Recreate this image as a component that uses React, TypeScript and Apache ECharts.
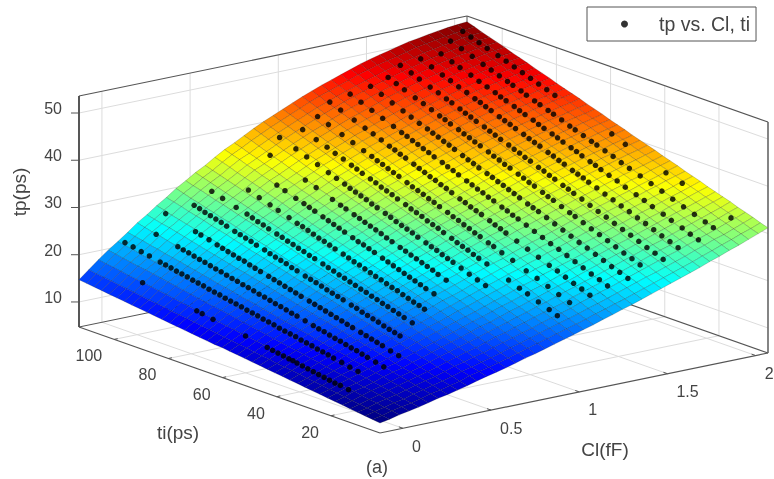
import React, { useEffect, useRef } from "react";
import * as echarts from "echarts";

const clTicks = [0, 0.5, 1, 1.5, 2];
const clTickLabels = ["0", "0.5", "1", "1.5", "2"];
const tiTicks = [20, 40, 60, 80, 100];
const tpTicks = [10, 20, 30, 40, 50];
const clRange = [-0.13, 2.07];
const tiRange = [1.9, 113];
const tpRange = [4.7, 53.6];
const surfaceRows = [
[6.8,7.2,7.7,8.1,8.5,9.0,9.5,9.9,10.4,10.9,11.5,12.0,12.5,13.0,13.6,14.2,14.7,15.3,15.9,16.5,17.1,17.7,18.3,19.0,19.6,20.3,20.9,21.6,22.3,23.0,23.7,24.4,25.1,25.8,26.6,27.3,28.1,28.8,29.6,30.4,31.2],
[7.0,7.4,8.0,8.4,8.8,9.3,9.9,10.3,10.8,11.3,12.0,12.5,13.0,13.5,14.1,14.7,15.3,15.9,16.5,17.1,17.7,18.3,18.9,19.6,20.2,20.9,21.5,22.2,22.9,23.6,24.3,25.0,25.7,26.4,27.2,27.9,28.7,29.4,30.2,30.9,31.7],
[7.2,7.7,8.2,8.7,9.1,9.7,10.2,10.7,11.2,11.8,12.4,12.9,13.5,14.0,14.6,15.3,15.8,16.4,17.1,17.7,18.3,18.9,19.5,20.2,20.8,21.5,22.2,22.9,23.6,24.3,24.9,25.6,26.3,27.0,27.8,28.5,29.3,29.9,30.7,31.5,32.3],
[7.4,7.9,8.5,9.0,9.4,10.0,10.6,11.1,11.6,12.2,12.9,13.4,14.0,14.5,15.2,15.8,16.4,17.0,17.6,18.3,18.9,19.5,20.1,20.9,21.5,22.2,22.8,23.5,24.2,24.9,25.6,26.3,27.0,27.6,28.4,29.1,29.8,30.5,31.3,32.0,32.8],
[7.6,8.1,8.7,9.3,9.8,10.4,11.0,11.5,12.1,12.6,13.3,13.9,14.5,15.0,15.7,16.4,16.9,17.6,18.2,18.9,19.5,20.1,20.7,21.5,22.1,22.8,23.4,24.1,24.8,25.5,26.2,26.9,27.6,28.2,29.0,29.7,30.4,31.1,31.8,32.6,33.3],
[7.8,8.3,9.0,9.6,10.1,10.7,11.3,11.9,12.5,13.1,13.8,14.4,15.0,15.6,16.2,16.9,17.5,18.1,18.8,19.4,20.1,20.7,21.4,22.1,22.7,23.4,24.0,24.7,25.4,26.1,26.8,27.5,28.2,28.8,29.6,30.3,31.0,31.7,32.4,33.1,33.9],
[8.0,8.6,9.3,9.8,10.4,11.1,11.7,12.2,12.9,13.5,14.2,14.9,15.5,16.1,16.8,17.5,18.0,18.7,19.4,20.0,20.7,21.3,22.0,22.7,23.3,24.0,24.7,25.4,26.1,26.8,27.4,28.1,28.8,29.5,30.2,30.9,31.6,32.2,33.0,33.7,34.4],
[8.2,8.8,9.5,10.1,10.7,11.4,12.1,12.6,13.3,14.0,14.7,15.3,16.0,16.6,17.3,18.0,18.6,19.3,20.0,20.6,21.3,22.0,22.6,23.3,24.0,24.7,25.3,26.0,26.7,27.4,28.1,28.7,29.4,30.1,30.8,31.5,32.2,32.8,33.5,34.2,34.9],
[8.4,9.0,9.8,10.4,11.0,11.7,12.4,13.0,13.7,14.4,15.2,15.8,16.5,17.1,17.8,18.5,19.1,19.8,20.5,21.2,21.9,22.6,23.2,24.0,24.6,25.3,25.9,26.6,27.3,28.0,28.7,29.4,30.0,30.7,31.4,32.0,32.8,33.4,34.1,34.8,35.4],
[8.6,9.3,10.0,10.7,11.3,12.1,12.8,13.4,14.1,14.8,15.6,16.3,17.0,17.6,18.3,19.1,19.7,20.4,21.1,21.8,22.5,23.2,23.8,24.6,25.2,25.9,26.5,27.3,28.0,28.6,29.3,30.0,30.6,31.3,32.0,32.6,33.3,34.0,34.6,35.3,36.0],
[8.8,9.5,10.3,11.0,11.7,12.4,13.2,13.8,14.6,15.3,16.1,16.8,17.4,18.1,18.9,19.6,20.3,21.0,21.7,22.4,23.1,23.8,24.4,25.2,25.8,26.6,27.2,27.9,28.6,29.3,29.9,30.6,31.3,31.9,32.6,33.2,33.9,34.5,35.2,35.9,36.5],
[9.0,9.7,10.5,11.3,12.0,12.8,13.5,14.2,15.0,15.7,16.5,17.3,17.9,18.6,19.4,20.2,20.8,21.5,22.3,23.0,23.7,24.4,25.0,25.8,26.4,27.2,27.8,28.5,29.2,29.9,30.6,31.2,31.9,32.5,33.2,33.8,34.5,35.1,35.8,36.4,37.0],
[9.2,10.0,10.8,11.6,12.3,13.1,13.9,14.6,15.4,16.1,17.0,17.7,18.4,19.1,19.9,20.7,21.4,22.1,22.8,23.6,24.3,25.0,25.6,26.4,27.1,27.8,28.4,29.1,29.8,30.5,31.2,31.8,32.5,33.1,33.8,34.4,35.1,35.7,36.3,37.0,37.6],
[9.4,10.2,11.1,11.9,12.6,13.4,14.3,15.0,15.8,16.6,17.4,18.2,18.9,19.6,20.5,21.2,21.9,22.7,23.4,24.2,24.9,25.6,26.3,27.0,27.7,28.4,29.1,29.8,30.5,31.1,31.8,32.5,33.1,33.7,34.4,35.0,35.7,36.2,36.9,37.5,38.1],
[9.6,10.4,11.3,12.2,12.9,13.8,14.6,15.4,16.2,17.0,17.9,18.7,19.4,20.2,21.0,21.8,22.5,23.3,24.0,24.7,25.5,26.2,26.9,27.7,28.3,29.1,29.7,30.4,31.1,31.8,32.4,33.1,33.7,34.3,35.0,35.6,36.3,36.8,37.4,38.0,38.6],
[9.8,10.6,11.6,12.5,13.2,14.1,15.0,15.8,16.6,17.4,18.4,19.1,19.9,20.7,21.5,22.3,23.0,23.8,24.6,25.3,26.1,26.8,27.5,28.3,28.9,29.7,30.3,31.0,31.7,32.4,33.0,33.7,34.3,34.9,35.6,36.2,36.8,37.4,38.0,38.6,39.2],
[10.0,10.9,11.9,12.7,13.5,14.5,15.4,16.2,17.0,17.9,18.8,19.6,20.4,21.2,22.0,22.9,23.6,24.4,25.2,25.9,26.7,27.4,28.1,28.9,29.6,30.3,30.9,31.6,32.3,33.0,33.7,34.3,34.9,35.5,36.2,36.8,37.4,38.0,38.6,39.1,39.7],
[10.2,11.1,12.1,13.0,13.9,14.8,15.7,16.5,17.5,18.3,19.3,20.1,20.9,21.7,22.6,23.4,24.1,25.0,25.7,26.5,27.3,28.0,28.7,29.5,30.2,30.9,31.6,32.3,33.0,33.7,34.3,34.9,35.6,36.2,36.8,37.4,38.0,38.5,39.1,39.7,40.2],
[10.4,11.3,12.4,13.3,14.2,15.2,16.1,16.9,17.9,18.8,19.7,20.6,21.4,22.2,23.1,24.0,24.7,25.5,26.3,27.1,27.9,28.6,29.3,30.1,30.8,31.5,32.2,32.9,33.6,34.3,34.9,35.5,36.2,36.8,37.4,38.0,38.6,39.1,39.7,40.2,40.7],
[10.6,11.6,12.6,13.6,14.5,15.5,16.5,17.3,18.3,19.2,20.2,21.0,21.9,22.7,23.6,24.5,25.3,26.1,26.9,27.7,28.5,29.2,29.9,30.7,31.4,32.2,32.8,33.5,34.2,34.9,35.5,36.2,36.8,37.4,38.0,38.6,39.2,39.7,40.2,40.8,41.3],
[10.8,11.8,12.9,13.9,14.8,15.8,16.8,17.7,18.7,19.6,20.6,21.5,22.4,23.2,24.1,25.0,25.8,26.7,27.5,28.3,29.1,29.8,30.5,31.4,32.0,32.8,33.4,34.2,34.9,35.5,36.2,36.8,37.4,38.0,38.6,39.2,39.8,40.2,40.8,41.3,41.8],
[11.0,12.0,13.1,14.2,15.1,16.2,17.2,18.1,19.1,20.1,21.1,22.0,22.9,23.8,24.7,25.6,26.4,27.2,28.1,28.9,29.7,30.4,31.2,32.0,32.6,33.4,34.0,34.8,35.5,36.1,36.8,37.4,38.0,38.6,39.2,39.8,40.3,40.8,41.4,41.9,42.3],
[11.1,12.2,13.4,14.5,15.4,16.5,17.6,18.5,19.5,20.5,21.5,22.5,23.4,24.3,25.2,26.1,26.9,27.8,28.6,29.5,30.3,31.0,31.8,32.6,33.3,34.0,34.7,35.4,36.1,36.8,37.4,38.0,38.6,39.2,39.8,40.3,40.9,41.4,41.9,42.4,42.9],
[11.3,12.5,13.6,14.8,15.7,16.9,17.9,18.9,19.9,20.9,22.0,22.9,23.9,24.8,25.7,26.7,27.5,28.4,29.2,30.1,30.9,31.6,32.4,33.2,33.9,34.7,35.3,36.0,36.7,37.4,38.0,38.7,39.2,39.8,40.4,40.9,41.5,42.0,42.5,42.9,43.4],
[11.5,12.7,13.9,15.1,16.1,17.2,18.3,19.3,20.3,21.4,22.5,23.4,24.4,25.3,26.2,27.2,28.0,28.9,29.8,30.6,31.5,32.2,33.0,33.8,34.5,35.3,35.9,36.6,37.3,38.0,38.6,39.3,39.9,40.4,41.0,41.5,42.1,42.5,43.0,43.5,43.9],
[11.7,12.9,14.2,15.4,16.4,17.5,18.7,19.7,20.8,21.8,22.9,23.9,24.9,25.8,26.8,27.7,28.6,29.5,30.4,31.2,32.1,32.9,33.6,34.5,35.2,35.9,36.6,37.3,38.0,38.7,39.3,39.9,40.5,41.0,41.6,42.1,42.7,43.1,43.6,44.0,44.5],
[11.9,13.2,14.4,15.6,16.7,17.9,19.0,20.1,21.2,22.2,23.4,24.4,25.3,26.3,27.3,28.3,29.2,30.1,31.0,31.8,32.7,33.5,34.2,35.1,35.8,36.5,37.2,37.9,38.6,39.3,39.9,40.5,41.1,41.6,42.2,42.7,43.3,43.7,44.2,44.6,45.0],
[12.1,13.4,14.7,15.9,17.0,18.2,19.4,20.5,21.6,22.7,23.8,24.9,25.8,26.8,27.8,28.8,29.7,30.6,31.5,32.4,33.3,34.1,34.8,35.7,36.4,37.2,37.8,38.5,39.3,39.9,40.5,41.1,41.7,42.2,42.9,43.3,43.8,44.2,44.7,45.1,45.5],
[12.3,13.6,15.0,16.2,17.3,18.5,19.8,20.8,22.0,23.1,24.3,25.3,26.3,27.3,28.4,29.4,30.3,31.2,32.1,33.0,33.9,34.7,35.4,36.3,37.0,37.8,38.5,39.2,39.9,40.6,41.2,41.8,42.3,42.9,43.5,43.9,44.4,44.8,45.3,45.7,46.0],
[12.5,13.8,15.2,16.5,17.6,18.9,20.1,21.2,22.4,23.5,24.7,25.8,26.8,27.8,28.9,29.9,30.8,31.8,32.7,33.6,34.4,35.3,36.0,36.9,37.6,38.4,39.1,39.8,40.5,41.2,41.8,42.4,42.9,43.5,44.1,44.5,45.0,45.4,45.8,46.2,46.6],
[12.7,14.1,15.5,16.8,18.0,19.2,20.5,21.6,22.8,24.0,25.2,26.3,27.3,28.3,29.4,30.5,31.4,32.3,33.3,34.2,35.0,35.9,36.7,37.5,38.3,39.0,39.7,40.4,41.1,41.8,42.4,43.0,43.6,44.1,44.7,45.1,45.6,46.0,46.4,46.8,47.1],
[12.9,14.3,15.8,17.1,18.3,19.6,20.9,22.0,23.2,24.4,25.6,26.8,27.8,28.8,30.0,31.0,31.9,32.9,33.9,34.8,35.6,36.5,37.3,38.2,38.9,39.6,40.3,41.0,41.7,42.4,43.0,43.6,44.2,44.7,45.3,45.7,46.2,46.6,47.0,47.3,47.6],
[13.1,14.5,16.0,17.4,18.6,19.9,21.2,22.4,23.7,24.9,26.1,27.2,28.3,29.3,30.5,31.6,32.5,33.5,34.4,35.4,36.2,37.1,37.9,38.8,39.5,40.3,40.9,41.6,42.4,43.0,43.6,44.2,44.8,45.3,45.9,46.3,46.8,47.1,47.5,47.9,48.2],
[13.3,14.7,16.3,17.7,18.9,20.3,21.6,22.8,24.1,25.3,26.6,27.7,28.8,29.9,31.0,32.1,33.0,34.0,35.0,36.0,36.8,37.7,38.5,39.4,40.1,40.9,41.6,42.3,43.0,43.6,44.2,44.8,45.4,45.9,46.5,46.9,47.3,47.7,48.1,48.4,48.7],
[13.5,15.0,16.5,18.0,19.2,20.6,22.0,23.2,24.5,25.7,27.0,28.2,29.3,30.4,31.6,32.7,33.6,34.6,35.6,36.5,37.4,38.3,39.1,40.0,40.7,41.5,42.2,42.9,43.6,44.3,44.8,45.4,46.0,46.5,47.1,47.5,47.9,48.3,48.6,49.0,49.2],
[13.7,15.2,16.8,18.3,19.5,20.9,22.3,23.6,24.9,26.2,27.5,28.7,29.8,30.9,32.1,33.2,34.2,35.2,36.2,37.1,38.0,38.9,39.7,40.6,41.4,42.1,42.8,43.5,44.3,44.9,45.5,46.1,46.6,47.1,47.7,48.1,48.5,48.8,49.2,49.5,49.8],
[13.9,15.4,17.0,18.5,19.8,21.3,22.7,24.0,25.3,26.6,27.9,29.1,30.3,31.4,32.6,33.8,34.7,35.7,36.7,37.7,38.6,39.5,40.3,41.2,42.0,42.8,43.4,44.2,44.9,45.5,46.1,46.7,47.2,47.7,48.3,48.7,49.1,49.4,49.8,50.1,50.3],
[14.1,15.7,17.3,18.8,20.1,21.6,23.1,24.4,25.7,27.0,28.4,29.6,30.8,31.9,33.1,34.3,35.3,36.3,37.3,38.3,39.2,40.1,41.0,41.8,42.6,43.4,44.1,44.8,45.5,46.1,46.7,47.3,47.8,48.3,48.9,49.2,49.6,50.0,50.3,50.6,50.8],
[14.3,15.9,17.6,19.1,20.5,22.0,23.4,24.7,26.1,27.5,28.8,30.1,31.3,32.4,33.7,34.9,35.8,36.9,37.9,38.9,39.8,40.7,41.6,42.5,43.2,44.0,44.7,45.4,46.1,46.7,47.3,47.9,48.4,48.9,49.5,49.8,50.2,50.5,50.9,51.1,51.3],
[14.5,16.1,17.8,19.4,20.8,22.3,23.8,25.1,26.6,27.9,29.3,30.5,31.8,32.9,34.2,35.4,36.4,37.5,38.5,39.5,40.4,41.3,42.2,43.1,43.9,44.6,45.3,46.0,46.8,47.4,48.0,48.5,49.0,49.5,50.1,50.4,50.8,51.1,51.4,51.6,51.9],
[14.7,16.4,18.1,19.7,21.1,22.6,24.2,25.5,27.0,28.3,29.8,31.0,32.3,33.4,34.7,35.9,36.9,38.0,39.1,40.1,41.0,41.9,42.8,43.7,44.5,45.3,46.0,46.7,47.4,48.1,48.7,49.2,49.7,50.2,50.7,51.0,51.4,51.7,52.0,52.2,52.4],
];
const dotRows = [
  { cl: 0, ti: [98,78,76,72,60,52,50,48,46,44,42.5,41,39,37,35,33,31,29,27,25,22], tp: [16.1,14.2,14.0,13.6,12.5,11.7,11.5,11.3,11.1,10.9,10.8,10.6,10.4,10.2,10.0,9.8,9.6,9.4,9.2,9.1,8.8] },
  { cl: 0.1, ti: [111,108,105,102,98,96,94,92,90,88,86,84,82,80,78,76,74,72,70,68,66,64,62,60,58,56,54,52,50,48,46,44,42,40,38,36,34,31,28,25], tp: [21.2,20.9,20.5,20.2,19.7,19.5,19.3,19.0,18.8,18.6,18.3,18.1,17.9,17.6,17.4,17.2,16.9,16.7,16.5,16.3,16.0,15.8,15.6,15.3,15.1,14.9,14.6,14.4,14.2,14.0,13.7,13.5,13.3,13.0,12.8,12.6,12.3,12.0,11.6,11.3] },
  { cl: 0.2, ti: [106,98,96,94,92,90,88,86,84,82,80,78,76,74,72,70,68,66,64,62,60,58,56,54,51,48,46,44,42,40,38,36,34,32,30,28,25,22], tp: [23.2,22.2,21.9,21.7,21.4,21.1,20.9,20.6,20.3,20.1,19.8,19.5,19.3,19.0,18.8,18.5,18.2,18.0,17.7,17.4,17.2,16.9,16.6,16.4,16.0,15.6,15.3,15.1,14.8,14.5,14.3,14.0,13.7,13.5,13.2,12.9,12.5,12.1] },
  { cl: 0.3, ti: [109,98,96,93,90,88,86,84,82,80,78,76,74,71,69,67,65,63,61,59,56,54,52,50,48,46,44,42,40,37,35,33,31,29,26,23], tp: [26.2,24.6,24.3,23.9,23.4,23.1,22.8,22.5,22.2,22.0,21.6,21.3,21.0,20.6,20.3,20.0,19.7,19.4,19.1,18.8,18.4,18.1,17.8,17.5,17.2,16.9,16.6,16.3,16.0,15.6,15.3,15.0,14.7,14.4,13.9,13.5] },
  { cl: 0.4, ti: [105,103,101,99,97,95,93,90,88,86,84,82,79,77,75,73,71,69,67,64,62,60,58,56,54,52,50,47,45,43,41,39,37,35,33,31,29], tp: [28.0,27.7,27.3,27.0,26.7,26.4,26.0,25.5,25.2,24.9,24.6,24.2,23.8,23.4,23.1,22.8,22.5,22.1,21.8,21.3,21.0,20.7,20.4,20.0,19.7,19.4,19.1,18.6,18.3,17.9,17.6,17.3,17.0,16.6,16.3,16.0,15.7] },
  { cl: 0.5, ti: [105,101,96,92,90,88,86,84,81,79,77,75,73,71,69,67,64,62,60,58,56,54,52,50,48,46,44,42,40,38,36,34,31], tp: [30.2,29.5,28.6,28.0,27.6,27.2,26.9,26.5,26.0,25.7,25.3,25.0,24.6,24.3,23.9,23.6,23.1,22.7,22.4,22.0,21.7,21.3,21.0,20.6,20.3,19.9,19.6,19.2,18.9,18.5,18.2,17.8,17.3] },
  { cl: 0.6, ti: [98,94,90,87,83,80,78,76,74,72,70,68,66,63,61,59,57,55,53,51,49,47,45,43,41,39,37,35,33], tp: [31.1,30.3,29.6,29.0,28.3,27.7,27.4,27.0,26.6,26.2,25.9,25.5,25.1,24.6,24.2,23.8,23.5,23.1,22.7,22.3,22.0,21.6,21.2,20.9,20.5,20.1,19.7,19.4,19.0] },
  { cl: 0.7, ti: [94,91,87,84,82,80,77,75,73,71,69,66,64,62,60,58,55,53,51,49,47,45,43,41,39,36], tp: [32.2,31.6,30.8,30.3,29.9,29.5,28.9,28.5,28.1,27.7,27.3,26.7,26.3,26.0,25.6,25.2,24.6,24.2,23.8,23.4,23.0,22.6,22.2,21.8,21.4,20.9] },
  { cl: 0.8, ti: [103,90,86,80,77,75,72,70,68,66,64,62,60,58,55,53,51,49,47,45,43,41,38], tp: [35.9,33.3,32.5,31.2,30.6,30.2,29.6,29.2,28.8,28.4,28.0,27.6,27.1,26.7,26.1,25.7,25.3,24.9,24.5,24.1,23.7,23.2,22.6] },
  { cl: 0.9, ti: [106,100,96,92,88,85,82,80,78,76,74,72,70,67,65,63,61,59,57,55,52,50,48,46,44,42,39,36,33,30], tp: [38.3,37.1,36.2,35.4,34.5,33.9,33.3,32.8,32.4,32.0,31.6,31.1,30.7,30.1,29.7,29.2,28.8,28.4,28.0,27.5,26.9,26.5,26.1,25.6,25.2,24.8,24.2,23.5,22.9,22.3] },
  { cl: 1.0, ti: [104,99,95,92,89,86,84,82,79,77,75,73,71,69,66,64,62,60,58,56,54,52,49,47,45,43,41,39,36,28,24,21,17,13,10], tp: [39.6,38.5,37.7,37.0,36.4,35.7,35.3,34.8,34.2,33.8,33.3,32.9,32.5,32.0,31.4,30.9,30.5,30.1,29.6,29.2,28.8,28.3,27.7,27.2,26.8,26.4,25.9,25.5,24.9,23.1,22.2,21.6,20.7,19.9,19.2] },
  { cl: 1.1, ti: [105,101,96,92,88,85,83,81,79,77,75,72,70,68,66,64,62,60,57,55,53,51,49,47,45,42,40,37,33,28,24,20,16,12], tp: [41.4,40.5,39.4,38.5,37.6,37.0,36.5,36.1,35.6,35.2,34.8,34.1,33.6,33.2,32.8,32.3,31.9,31.4,30.8,30.3,29.9,29.4,29.0,28.5,28.1,27.4,27.0,26.3,25.5,24.3,23.5,22.6,21.7,20.8] },
  { cl: 1.2, ti: [107,103,98,94,91,88,85,83,81,79,76,74,72,70,68,66,64,62,59,57,55,53,51,48,46,44,42,38,34,30,26,23,20,17,14,11], tp: [43.3,42.4,41.3,40.4,39.8,39.1,38.4,38.0,37.5,37.1,36.4,35.9,35.5,35.0,34.6,34.1,33.7,33.2,32.5,32.1,31.6,31.2,30.8,30.1,29.6,29.2,28.7,27.8,26.9,26.0,25.1,24.5,23.8,23.1,22.5,21.8] },
  { cl: 1.3, ti: [106,102,98,94,90,87,85,83,81,79,77,75,72,70,68,66,63,61,59,57,55,53,50,48,46,44,41,38,35,32,29,26,23,20,17,14,11], tp: [44.4,43.5,42.6,41.7,40.8,40.1,39.7,39.2,38.8,38.3,37.9,37.4,36.8,36.3,35.9,35.4,34.7,34.3,33.8,33.4,32.9,32.5,31.8,31.4,30.9,30.5,29.8,29.1,28.4,27.7,27.1,26.4,25.7,25.0,24.3,23.7,23.0] },
  { cl: 1.4, ti: [105,101,97,93,90,87,84,82,80,78,76,74,71,69,67,65,62,60,58,56,54,52,50,47,45,43,40,37,34,31,28,25,22,19,16,13,10], tp: [45.5,44.6,43.6,42.7,42.0,41.3,40.7,40.2,39.8,39.3,38.9,38.4,37.7,37.2,36.8,36.3,35.7,35.3,34.8,34.4,33.9,33.5,33.0,32.3,31.9,31.5,30.8,30.1,29.4,28.7,28.0,27.4,26.7,26.0,25.3,24.7,24.0] },
  { cl: 1.5, ti: [105,102,99,95,92,89,86,84,82,79,77,75,73,71,68,66,64,62,60,57,55,53,51,48,46,44,41,38,36,33,30,27,24,21,18,15,12], tp: [46.6,45.9,45.2,44.3,43.7,43.0,42.3,41.9,41.4,40.8,40.3,39.9,39.4,39.0,38.3,37.8,37.4,36.9,36.5,35.8,35.4,34.9,34.5,33.8,33.3,32.9,32.2,31.5,31.1,30.4,29.7,29.1,28.4,27.7,27.0,26.4,25.7] },
  { cl: 1.6, ti: [107,103,100,96,93,90,88,85,83,81,79,76,74,72,70,67,65,63,61,59,56,54,52,50,47,45,43,40,37,34,31,28,25,22,19,16,13,10], tp: [48.0,47.2,46.5,45.6,45.0,44.3,43.9,43.2,42.7,42.3,41.8,41.2,40.7,40.3,39.8,39.2,38.7,38.3,37.8,37.4,36.7,36.3,35.8,35.4,34.7,34.3,33.8,33.2,32.5,31.8,31.2,30.5,29.8,29.2,28.5,27.8,27.2,26.5] },
  { cl: 1.7, ti: [106,102,98,95,92,89,86,84,82,80,77,75,73,71,68,66,64,62,59,57,55,53,50,48,46,44,41,38,35,32,29,26,23,20,17,14,11], tp: [48.8,47.9,47.0,46.4,45.7,45.1,44.4,44.0,43.5,43.1,42.4,42.0,41.6,41.1,40.5,40.0,39.6,39.2,38.5,38.1,37.6,37.2,36.5,36.1,35.7,35.2,34.6,33.9,33.3,32.6,32.0,31.3,30.7,30.0,29.3,28.7,28.0] },
  { cl: 1.8, ti: [105,101,98,94,91,88,85,83,81,78,76,74,71,69,67,64,62,60,57,55,53,50,48,46,43,40,37,33,30,27,23,20,16,13,10], tp: [49.3,48.4,47.8,47.0,46.3,45.7,45.1,44.6,44.2,43.6,43.1,42.7,42.1,41.6,41.2,40.6,40.2,39.7,39.1,38.7,38.2,37.6,37.2,36.7,36.1,35.5,34.8,34.0,33.4,32.7,31.9,31.2,30.4,29.7,29.1] },
  { cl: 1.9, ti: [108,104,100,96,93,90,87,85,82,80,77,75,72,70,67,64,62,59,56,54,51,48,45,42,38,34,30,26,22,18,14,11], tp: [50.6,49.8,49.0,48.1,47.5,46.9,46.3,45.9,45.3,44.8,44.2,43.8,43.2,42.8,42.2,41.5,41.1,40.5,39.9,39.5,38.9,38.3,37.6,37.0,36.2,35.4,34.6,33.7,32.9,32.1,31.3,30.7] },
  { cl: 2.0, ti: [110,107,104,101,97,94,91,88,85,82,79,76,55,50,35,29,11], tp: [51.5,50.9,50.3,49.7,49.0,48.4,47.8,47.2,46.6,46.0,45.4,44.8,40.9,39.7,36.7,35.7,32.0] },
];

const FRONT = [380, 433];
const LEFT = [79, 327];
const RIGHT = [768, 353];
const HEIGHT = 231;

function project(cl: number, ti: number, tp: number) {
  const u = (cl - clRange[0]) / (clRange[1] - clRange[0]);
  const v = (ti - tiRange[0]) / (tiRange[1] - tiRange[0]);
  const w = (tp - tpRange[0]) / (tpRange[1] - tpRange[0]);
  return [
    FRONT[0] + (RIGHT[0] - FRONT[0]) * u + (LEFT[0] - FRONT[0]) * v,
    FRONT[1] + (RIGHT[1] - FRONT[1]) * u + (LEFT[1] - FRONT[1]) * v - HEIGHT * w,
  ];
}
const clamp = (x: number) => Math.max(0, Math.min(1, x));
function jet(t: number) {
  const c = (k: number) => Math.round(255 * clamp(1.5 - Math.abs(4 * t - k)));
  return `rgb(${c(3)},${c(2)},${c(1)})`;
}

const [c0, c1] = clRange;
const [t0, t1] = tiRange;
const [p0, p1] = tpRange;
type Seg = { a: number[]; b: number[]; color: string; width: number };
const segs: Seg[] = [];
const GRID = "#dcdcdc";
const BOX = "#555";
function seg(a: number[], b: number[], color: string, width: number) {
  segs.push({ a: project(a[0], a[1], a[2]), b: project(b[0], b[1], b[2]), color, width });
}
clTicks.forEach((c) => {
  seg([c, t0, p0], [c, t1, p0], GRID, 1);
  seg([c, t1, p0], [c, t1, p1], GRID, 1);
});
tiTicks.forEach((t) => {
  seg([c0, t, p0], [c1, t, p0], GRID, 1);
  seg([c1, t, p0], [c1, t, p1], GRID, 1);
});
tpTicks.forEach((z) => {
  seg([c0, t1, z], [c1, t1, z], GRID, 1);
  seg([c1, t0, z], [c1, t1, z], GRID, 1);
});
seg([c0, t1, p0], [c1, t1, p0], BOX, 1);
seg([c1, t0, p0], [c1, t1, p0], BOX, 1.2);
seg([c0, t1, p1], [c1, t1, p1], BOX, 1.2);
seg([c1, t0, p1], [c1, t1, p1], BOX, 1.2);
seg([c1, t1, p0], [c1, t1, p1], BOX, 1);
seg([c0, t1, p0], [c0, t1, p1], "#444", 1.8);
seg([c1, t0, p0], [c1, t0, p1], "#666", 1.6);
seg([c0, t0, p0], [c0, t1, p0], BOX, 1.2);
seg([c0, t0, p0], [c1, t0, p0], BOX, 1.2);
clTicks.forEach((c) => seg([c, t0, p0], [c, t0 + 1.5, p0], BOX, 1));
tiTicks.forEach((t) => seg([c0, t, p0], [c0 + 0.02, t, p0], BOX, 1));

const nRows = surfaceRows.length;
const nCols = surfaceRows[0].length;
const cells: number[][] = [];
for (let i = nRows - 2; i >= 0; i--) for (let j = nCols - 2; j >= 0; j--) cells.push([i, j]);
const zMin = surfaceRows[0][0];
const zMax = surfaceRows[nRows - 1][nCols - 1];
const node = (i: number, j: number) =>
  project(
    c0 + ((c1 - c0) * j) / (nCols - 1),
    t0 + ((t1 - t0) * i) / (nRows - 1),
    surfaceRows[i][j],
  );
const dots: number[][] = [];
dotRows.forEach((r) => r.ti.forEach((t, k) => dots.push(project(r.cl, t, r.tp[k]))));

const FONT = '"Liberation Sans", Helvetica, Arial, sans-serif';
const TXT = "#444";
function label(text: string, x: number, y: number, size: number, align = "center", rotation = 0) {
  return {
    type: "text",
    x,
    y,
    rotation,
    z: 20,
    style: { text, font: `${size}px ${FONT}`, fill: TXT, align, verticalAlign: "middle" },
  };
}
const graphics: any[] = [];
tpTicks.forEach((z) => {
  const p = project(c0, t1, z);
  graphics.push(label(String(z), p[0] - 17, p[1] - 4.5, 16, "right"));
  graphics.push({ type: "line", z: 5, shape: { x1: p[0] - 8, y1: p[1], x2: p[0], y2: p[1] }, style: { stroke: BOX, lineWidth: 1 } });
});
tiTicks.forEach((t) => {
  const p = project(c0, t, p0);
  graphics.push(label(String(t), p[0] - 12, p[1] + 16.5, 16, "right"));
});
clTicks.forEach((c, k) => {
  const p = project(c, t0, p0);
  graphics.push(label(clTickLabels[k], p[0] + 9, p[1] + 18, 16, "left"));
});
graphics.push(label("tp(ps)", 19, 192, 19, "center", Math.PI / 2));
graphics.push(label("ti(ps)", 178, 432, 19));
graphics.push(label("Cl(fF)", 605, 449, 19));
graphics.push(label("(a)", 377, 467, 18));

export default function App() {
  const ref = useRef<HTMLDivElement>(null);
  useEffect(() => {
    const chart = echarts.init(ref.current!, undefined, { renderer: "svg" });
    chart.setOption({
      animation: false,
      backgroundColor: "#fff",
      grid: { left: 0, right: 0, top: 0, bottom: 0 },
      xAxis: { type: "value", min: 0, max: 774, show: false },
      yAxis: { type: "value", min: 0, max: 479, inverse: true, show: false },
      legend: {
        data: ["tp vs. Cl, ti"],
        left: 587,
        top: 7,
        padding: [7, 6, 7, 34],
        borderColor: "#555",
        borderWidth: 1,
        backgroundColor: "#fff",
        icon: "circle",
        itemWidth: 7,
        itemHeight: 7,
        itemGap: 0,
        selectedMode: false,
        textStyle: { fontFamily: FONT, fontSize: 19.5, color: TXT, padding: [0, 0, 0, 26] },
      },
      graphic: graphics,
      series: [
        {
          type: "custom",
          name: "box",
          silent: true,
          clip: false,
          data: segs.map((_, k) => [k]),
          renderItem: (_: any, api: any) => {
            const s = segs[api.value(0)];
            const a = api.coord(s.a);
            const b = api.coord(s.b);
            return {
              type: "line",
              shape: { x1: a[0], y1: a[1], x2: b[0], y2: b[1] },
              style: { stroke: s.color, lineWidth: s.width },
            };
          },
        },
        {
          type: "custom",
          name: "surface",
          silent: true,
          clip: false,
          data: cells,
          renderItem: (_: any, api: any) => {
            const i = api.value(0);
            const j = api.value(1);
            const mean =
              (surfaceRows[i][j] + surfaceRows[i + 1][j] + surfaceRows[i][j + 1] + surfaceRows[i + 1][j + 1]) / 4;
            return {
              type: "polygon",
              shape: {
                points: [node(i, j), node(i + 1, j), node(i + 1, j + 1), node(i, j + 1)].map((p) => api.coord(p)),
              },
              style: {
                fill: jet((mean - zMin) / (zMax - zMin)),
                stroke: "rgba(0,0,0,0.3)",
                lineWidth: 0.6,
              },
            };
          },
        },
        {
          type: "scatter",
          name: "tp vs. Cl, ti",
          symbol: "circle",
          symbolSize: 5.5,
          clip: false,
          itemStyle: { color: "#000" },
          data: dots,
        },
      ],
    });
    return () => chart.dispose();
  }, []);
  return (
    <div
      ref={ref}
      style={{ position: "fixed", left: 0, top: 0, width: 774, height: 479, filter: "blur(0.7px)" }}
    />
  );
}
